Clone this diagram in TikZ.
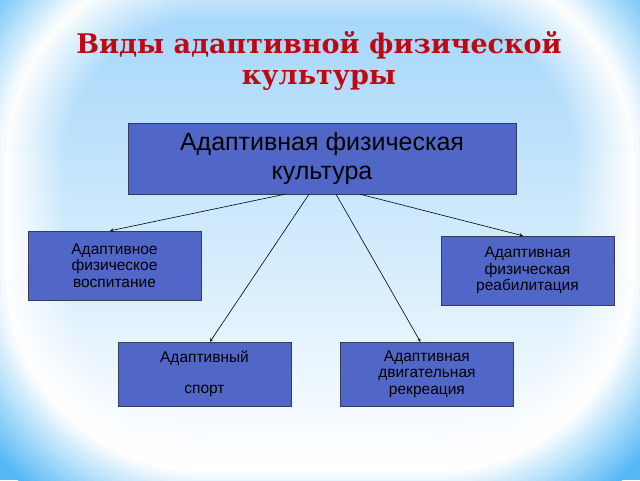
\documentclass[tikz,border=0pt]{standalone}
\usepackage{fontspec}
\setmainfont{Liberation Sans}
\newfontfamily\titlefont{DejaVu Serif}
\usetikzlibrary{arrows,positioning}

\definecolor{bgout}{RGB}{85,184,245}
\definecolor{bgin}{RGB}{155,210,250}
\definecolor{boxblue}{RGB}{80,103,200}
\definecolor{boxline}{RGB}{55,60,90}
\definecolor{titlered}{RGB}{190,8,18}

\begin{document}
\begin{tikzpicture}[
    x=1pt, y=-1pt,
    >=stealth,
    every node/.style={font=\fontsize{15.5}{16.5}\selectfont},
    kind/.style={rectangle, draw=boxline, fill=boxblue, minimum width=173pt, minimum height=69pt, inner sep=0pt, align=center, text=black},
    link/.style={->, line width=0.6pt}
]
    \useasboundingbox (0,0) rectangle (640,480);

    % Background
    \begin{scope}
        \clip (0,0) rectangle (640,480);
        \fill[bgout] (0,0) rectangle (640,480);
        \foreach \d in {-80,-76,...,0}{
            \pgfmathsetmacro\t{-\d/0.8}
            \pgfmathsetmacro\ra{200-\d}
            \fill[bgout!\t!white, rounded corners=\ra pt] (5+\d,-40+\d) rectangle (635-\d,472-\d);
        }
        \shade[top color=bgin, middle color=bgin!88!white, bottom color=white, rounded corners=200pt] (5,-40) rectangle (635,472);
        \foreach \d in {0,3,...,57}{
            \pgfmathsetmacro\op{1-\d/60}
            \pgfmathsetmacro\ra{200-\d}
            \pgfmathsetmacro\rb{197-\d}
            \fill[white, fill opacity=\op, even odd rule] [rounded corners=\ra pt] (5+\d,-40+\d) rectangle (635-\d,472-\d) [rounded corners=\rb pt] (8+\d,-37+\d) rectangle (632-\d,469-\d);
        }
    \end{scope}

    % Title
    \node[font=\titlefont\bfseries\fontsize{27}{31}\selectfont, text=titlered, align=center] (title) at (319,61) {Виды адаптивной физической\\культуры};

    % Main box
    \node[kind, minimum width=388pt, minimum height=71pt, font=\fontsize{25}{29}\selectfont] (afk) at (322,158.5) {Адаптивная физическая\\культура};

    % Kinds
    \node[kind] (edu) at (114.5,265.5) {Адаптивное\\физическое\\воспитание};
    \node[kind] (reh) at (527.5,270.5) {Адаптивная\\физическая\\реабилитация};
    \node[kind, minimum height=64pt] (sport) at (204.5,374) {Адаптивный\\[14pt]спорт};
    \node[kind, minimum height=64pt, right=49pt of sport] (rec) {Адаптивная\\двигательная\\рекреация};

    % Arrows
    \draw[link] ([xshift=-37pt]afk.south) -- ([xshift=-4.5pt]edu.north);
    \draw[link] ([xshift=-13pt]afk.south) -- ([xshift=5.5pt]sport.north);
    \draw[link] ([xshift=14pt]afk.south) -- ([xshift=-6.5pt]rec.north);
    \draw[link] ([xshift=38pt]afk.south) -- ([xshift=-4.5pt]reh.north);
\end{tikzpicture}
\end{document}
